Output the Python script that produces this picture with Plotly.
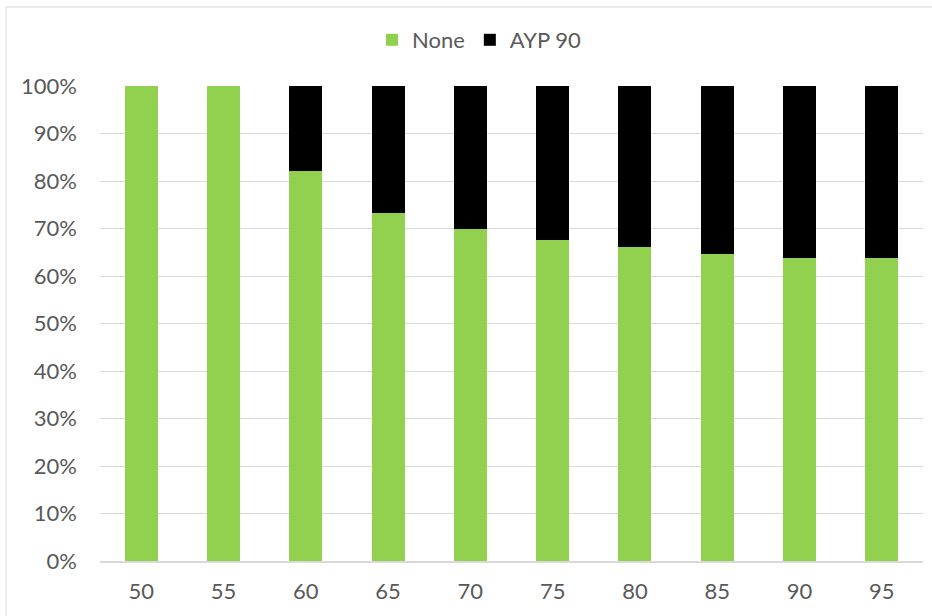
import plotly.graph_objects as go

# Age bands on the category axis
ages = ["50", "55", "60", "65", "70", "75", "80", "85", "90", "95"]

# Share of cases per band (fraction of 1)
share_none = [1.000, 1.000, 0.822, 0.733, 0.699, 0.675, 0.661, 0.646, 0.638, 0.638]
share_ayp90 = [round(1 - v, 3) for v in share_none]

# Tick values / labels for the percentage axis
y_ticks = [i / 10 for i in range(11)]
y_labels = [f"{i * 10}%" for i in range(11)]

GREEN = "#92d050"
BLACK = "#000000"
TEXT = "#595959"
GRID = "#d9d9d9"
FONT = "Lato"

fig = go.Figure()
fig.add_trace(go.Bar(x=ages, y=share_none, name="None", marker=dict(color=GREEN, line=dict(width=0))))
fig.add_trace(go.Bar(x=ages, y=share_ayp90, name="AYP 90", marker=dict(color=BLACK, line=dict(width=0))))

W, H = 932, 616
ml, mr, mt, mb = 100, 9, 86, 55
pw = W - ml - mr
ph = H - mt - mb

fig.update_layout(
    width=W,
    height=H,
    barmode="stack",
    bargap=0.6,
    plot_bgcolor="white",
    paper_bgcolor="white",
    margin=dict(l=ml, r=mr, t=mt, b=mb),
    font=dict(family=FONT, size=22, color=TEXT),
    legend=dict(
        orientation="h",
        traceorder="normal",
        x=(479 - ml) / pw,
        xanchor="center",
        y=(H - mb - 40) / ph,
        yanchor="middle",
        font=dict(family=FONT, size=22, color=TEXT),
        itemwidth=30,
        bgcolor="rgba(0,0,0,0)",
    ),
    xaxis=dict(
        type="category",
        showgrid=False,
        showline=True,
        linecolor=GRID,
        linewidth=1.5,
        ticks="",
        ticklabelstandoff=10,
        tickfont=dict(family=FONT, size=22, color=TEXT),
    ),
    yaxis=dict(
        range=[0, 1],
        tickvals=y_ticks,
        ticktext=y_labels,
        showgrid=True,
        gridcolor=GRID,
        gridwidth=1.2,
        zeroline=False,
        showline=False,
        ticks="",
        ticklabelstandoff=22,
        tickfont=dict(family=FONT, size=22, color=TEXT),
    ),
    shapes=[
        dict(
            type="rect",
            xref="paper",
            yref="paper",
            x0=(6 - ml) / pw,
            x1=1.2,
            y0=-0.3,
            y1=(H - mb - 7) / ph,
            line=dict(color=GRID, width=1),
            fillcolor="rgba(0,0,0,0)",
            layer="below",
        )
    ],
)

fig.write_html("out.html")
